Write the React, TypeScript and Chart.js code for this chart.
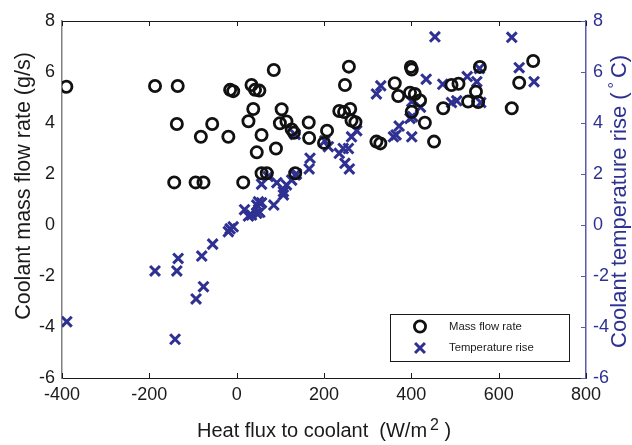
import React, { useEffect, useRef } from "react";
import { Chart, registerables } from "chart.js";

Chart.register(...registerables);

const FONT = "'Liberation Sans', Arial, Helvetica, sans-serif";
const INK = "#1a1a1a";
const BLUE = "#2e3192";
const BLUE_AXIS = "#5a5aa8";

const xTickValues = [-400, -200, 0, 200, 400, 600, 800];
const yTickValues = [-6, -4, -2, 0, 2, 4, 6, 8];

const massFlowLabel = "Mass flow rate";
const tempRiseLabel = "Temperature rise";
const xTitleMain = "Heat flux to coolant  (W/m";
const xTitleExp = "2";
const xTitleEnd = " )";
const yLeftTitle = "Coolant mass flow rate (g/s)";
const yRightTitleMain = "Coolant temperature rise (";
const yRightTitleDeg = "°";
const yRightTitleEnd = "C)";

const massFlowX = [
  -390, -187, -135, -137, -82, -56, -143, -94, -76, -19, -15, -8, 15, 27, 34, 38,
  42, 52, 57, 46, 57, 69, 85, 90, 103, 99, 114, 126, 131, 134, 165, 166, 207, 200,
  235, 246, 260, 263, 272, 248, 257, 320, 329, 362, 370, 397, 408, 420, 399, 401,
  401, 431, 452, 473, 492, 508, 530, 548, 557, 553, 630, 647, 679,
];
const massFlowY = [
  5.42, 5.45, 5.45, 3.96, 3.46, 3.96, 1.67, 1.67, 1.67, 3.46, 5.3, 5.25, 1.67, 4.07,
  5.49, 4.55, 5.3, 5.27, 3.53, 2.85, 2.03, 2.03, 6.08, 3.0, 4.54, 3.99, 4.06, 3.75,
  3.62, 2.03, 4.02, 3.41, 3.7, 3.22, 4.47, 4.43, 4.55, 4.1, 4.03, 5.49, 6.21, 3.27,
  3.2, 5.56, 5.06, 5.19, 5.14, 4.88, 6.2, 6.1, 4.44, 4.01, 3.27, 4.58, 5.49, 5.54,
  4.84, 5.23, 6.2, 4.82, 4.58, 5.58, 6.43,
];

const tempRiseX = [
  -389, -187, -137, -134, -141, -93, -76, -80, -55, -19, -15, -8, 18, 27, 34, 46, 53,
  46, 50, 57, 85, 107, 107, 114, 57, 72, 92, 126, 134, 137, 134, 166, 168, 202, 210,
  235, 244, 256, 248, 258, 263, 275, 320, 330, 359, 365, 372, 397, 403, 401, 401,
  421, 434, 454, 472, 492, 504, 528, 550, 556, 559, 630, 647, 681,
];
const tempRiseY = [
  -3.79, -1.8, -1.8, -1.31, -4.48, -2.9, -2.42, -1.22, -0.75, -0.26, -0.15, -0.07,
  0.6, 0.35, 0.39, 0.46, 0.5, 0.78, 0.91, 0.87, 0.78, 1.31, 1.18, 1.57, 1.6, 1.9,
  1.66, 1.76, 1.96, 2.0, 3.55, 2.2, 2.62, 3.3, 3.07, 2.81, 3.0, 3.0, 2.42, 2.2, 3.46,
  3.7, 5.14, 5.46, 3.46, 3.53, 3.88, 4.18, 4.25, 3.46, 4.84, 4.62, 5.72, 7.38, 5.52,
  4.8, 4.87, 5.82, 5.62, 6.14, 4.8, 7.36, 6.17, 5.62,
];

const toPoints = (xs: number[], ys: number[]) => xs.map((x, i) => ({ x, y: ys[i] }));

const decorPlugin = {
  id: "decor",
  afterDraw(chart: any) {
    const { ctx, chartArea: a, scales } = chart;
    const xs = scales.x;
    const yr = scales.y2;
    ctx.save();
    // top frame line
    ctx.strokeStyle = INK;
    ctx.lineWidth = 1;
    ctx.beginPath();
    ctx.moveTo(a.left, a.top + 0.5);
    ctx.lineTo(a.right, a.top + 0.5);
    ctx.stroke();
    // inward x ticks (bottom and top)
    xs.ticks.forEach((t: any) => {
      const px = Math.round(xs.getPixelForValue(t.value)) + 0.5;
      ctx.beginPath();
      ctx.moveTo(px, a.bottom);
      ctx.lineTo(px, a.bottom - 5);
      ctx.moveTo(px, a.top);
      ctx.lineTo(px, a.top + 5);
      ctx.stroke();
    });
    // inward right ticks
    ctx.strokeStyle = BLUE_AXIS;
    yr.ticks.forEach((t: any) => {
      const py = Math.round(yr.getPixelForValue(t.value)) + 0.5;
      ctx.beginPath();
      ctx.moveTo(a.right, py);
      ctx.lineTo(a.right - 5, py);
      ctx.stroke();
    });

    // x axis title with raised exponent
    ctx.fillStyle = INK;
    ctx.textBaseline = "alphabetic";
    ctx.textAlign = "left";
    let sx = 197;
    ctx.font = `20px ${FONT}`;
    ctx.fillText(xTitleMain, sx, 437);
    sx += ctx.measureText(xTitleMain).width + 3;
    ctx.font = `16px ${FONT}`;
    ctx.fillText(xTitleExp, sx, 430);
    sx += ctx.measureText(xTitleExp).width;
    ctx.font = `20px ${FONT}`;
    ctx.fillText(xTitleEnd, sx, 437);

    // left y title (reads bottom to top)
    ctx.save();
    ctx.translate(24, 186);
    ctx.rotate(-Math.PI / 2);
    ctx.font = `21.5px ${FONT}`;
    ctx.textAlign = "center";
    ctx.textBaseline = "middle";
    ctx.fillStyle = INK;
    ctx.fillText(yLeftTitle, 0, 0);
    ctx.restore();

    // right y title (also reads bottom to top)
    ctx.save();
    ctx.translate(620, 348);
    ctx.rotate(-Math.PI / 2);
    ctx.textAlign = "left";
    ctx.textBaseline = "middle";
    ctx.fillStyle = BLUE;
    ctx.font = `22px ${FONT}`;
    let lx0 = 0;
    ctx.fillText(yRightTitleMain, lx0, 0);
    lx0 += ctx.measureText(yRightTitleMain).width + 4;
    ctx.font = `16px ${FONT}`;
    ctx.fillText(yRightTitleDeg, lx0, -4);
    lx0 += ctx.measureText(yRightTitleDeg).width + 4;
    ctx.font = `22px ${FONT}`;
    ctx.fillText(yRightTitleEnd, lx0, 0);
    ctx.restore();

    // legend box
    const lx = 390, ly = 314, lw = 179, lh = 47;
    ctx.fillStyle = "#ffffff";
    ctx.fillRect(lx, ly, lw, lh);
    ctx.strokeStyle = INK;
    ctx.lineWidth = 1;
    ctx.strokeRect(lx + 0.5, ly + 0.5, lw, lh);
    const ds = chart.data.datasets;
    const rows = [326.5, 348];
    ds.forEach((d: any, i: number) => {
      const cy = rows[i];
      ctx.strokeStyle = d.borderColor;
      ctx.lineWidth = d.borderWidth;
      ctx.beginPath();
      if (d.pointStyle === "circle") {
        ctx.arc(420, cy, d.pointRadius, 0, Math.PI * 2);
      } else {
        const r = d.pointRadius * Math.SQRT1_2;
        ctx.moveTo(420 - r, cy - r);
        ctx.lineTo(420 + r, cy + r);
        ctx.moveTo(420 + r, cy - r);
        ctx.lineTo(420 - r, cy + r);
      }
      ctx.stroke();
      ctx.fillStyle = INK;
      ctx.font = `11.3px ${FONT}`;
      ctx.textAlign = "left";
      ctx.textBaseline = "middle";
      ctx.fillText(d.label, 449, cy);
    });
    ctx.restore();
  },
};

export default function App() {
  const ref = useRef<HTMLCanvasElement | null>(null);

  useEffect(() => {
    document.body.style.margin = "0";
    const canvas = ref.current;
    if (!canvas) return;
    const chart = new Chart(canvas, {
      type: "scatter",
      data: {
        datasets: [
          {
            label: massFlowLabel,
            data: toPoints(massFlowX, massFlowY),
            yAxisID: "y",
            pointStyle: "circle",
            pointRadius: 5.6,
            pointHoverRadius: 5.6,
            borderWidth: 2.8,
            borderColor: "#111111",
            backgroundColor: "rgba(0,0,0,0)",
          },
          {
            label: tempRiseLabel,
            data: toPoints(tempRiseX, tempRiseY),
            yAxisID: "y2",
            pointStyle: "crossRot",
            pointRadius: 7,
            pointHoverRadius: 7,
            borderWidth: 3,
            borderColor: BLUE,
            backgroundColor: BLUE,
          },
        ],
      },
      options: {
        responsive: false,
        animation: false,
        devicePixelRatio: 1,
        layout: { padding: { top: 21, left: 0, right: 0, bottom: 0 } },
        plugins: {
          legend: { display: false },
          tooltip: { enabled: false },
        },
        scales: {
          x: {
            type: "linear",
            min: -400,
            max: 800,
            afterBuildTicks: (s: any) => {
              s.ticks = xTickValues.map((v) => ({ value: v }));
            },
            afterFit: (s: any) => {
              s.height = 67;
            },
            grid: { display: false, drawTicks: false },
            border: { display: true, color: INK, width: 1 },
            ticks: {
              color: INK,
              padding: 6,
              maxRotation: 0,
              font: { family: FONT, size: 18 },
            },
          },
          y: {
            type: "linear",
            position: "left",
            min: -6,
            max: 8,
            afterBuildTicks: (s: any) => {
              s.ticks = yTickValues.map((v) => ({ value: v }));
            },
            afterFit: (s: any) => {
              s.width = 62;
            },
            grid: { display: false, drawTicks: false },
            border: { display: true, color: "#808080", width: 1.5 },
            ticks: {
              color: INK,
              padding: 7,
              font: { family: FONT, size: 18 },
            },
          },
          y2: {
            type: "linear",
            position: "right",
            min: -6,
            max: 8,
            afterBuildTicks: (s: any) => {
              s.ticks = yTickValues.map((v) => ({ value: v }));
            },
            afterFit: (s: any) => {
              s.width = 46;
            },
            grid: { display: false, drawTicks: false },
            border: { display: true, color: BLUE_AXIS, width: 1.5 },
            ticks: {
              color: BLUE,
              padding: 7,
              font: { family: FONT, size: 18 },
            },
          },
        },
      },
      plugins: [decorPlugin],
    } as any);
    return () => chart.destroy();
  }, []);

  return (
    <div style={{ width: 632, height: 445, background: "#ffffff" }}>
      <canvas ref={ref} width={632} height={445} style={{ display: "block" }} />
    </div>
  );
}
